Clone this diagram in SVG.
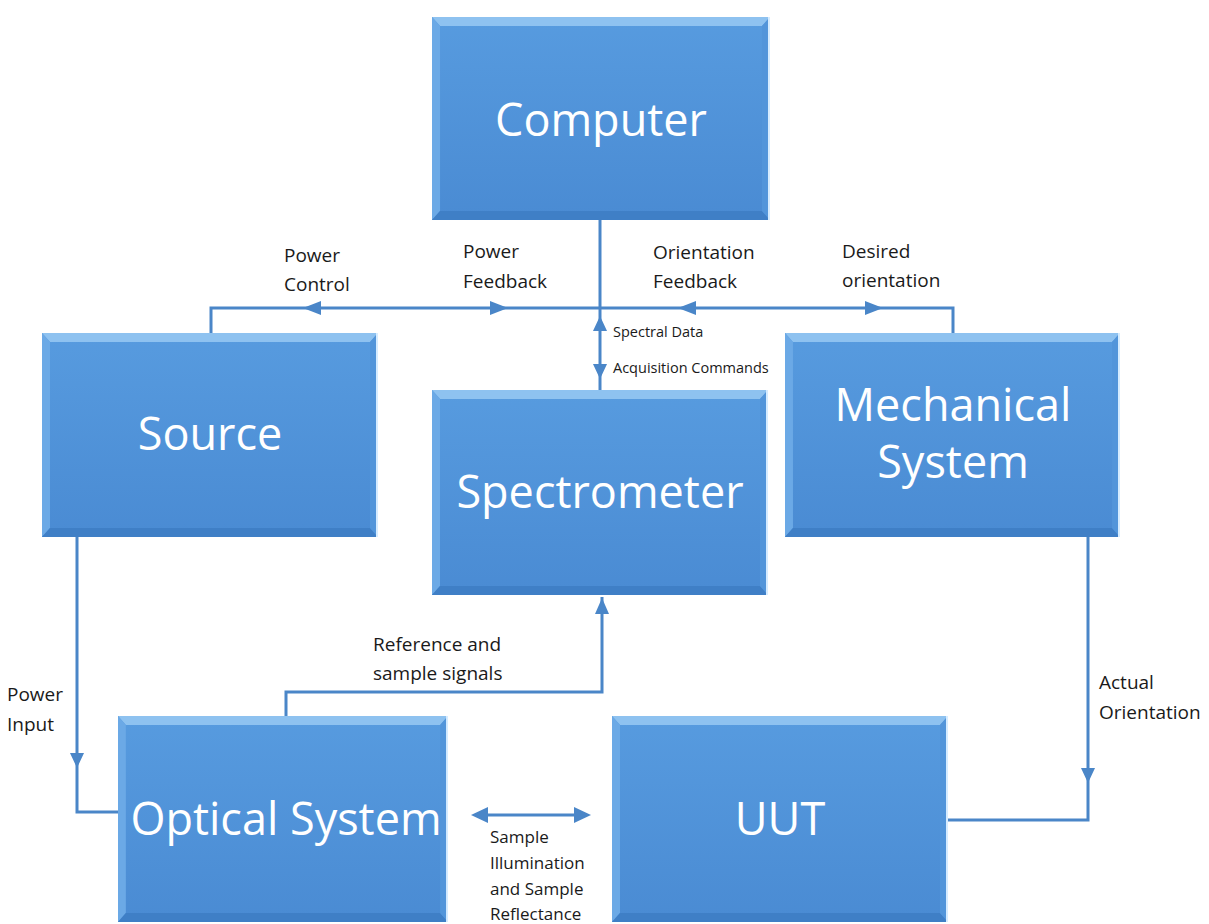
<svg xmlns="http://www.w3.org/2000/svg" xmlns:xlink="http://www.w3.org/1999/xlink" width="1209" height="924" viewBox="0 0 1209 924">
<style>
.lbl{font-family:"Open Sans","Liberation Sans",sans-serif;font-size:19px;fill:#1a1a1a}
.sm{font-family:"Open Sans","Liberation Sans",sans-serif;font-size:14.5px;fill:#1a1a1a}
.sl{font-family:"Open Sans","Liberation Sans",sans-serif;font-size:17px;fill:#1a1a1a}
.nt{font-family:"Open Sans","Liberation Sans",sans-serif;font-size:45px;fill:#ffffff;text-anchor:middle}
.ln{fill:none;stroke:#4a86c8;stroke-width:3}
.ah{fill:#4a86c8}
</style>
<defs>
<linearGradient id="g" x1="0" y1="0" x2="0" y2="1">
<stop offset="0" stop-color="#579bdf"/>
<stop offset="1" stop-color="#4a8bd3"/>
</linearGradient>
<symbol id="box" viewBox="0 0 336 204" preserveAspectRatio="none">
<rect x="0" y="0" width="336" height="204" fill="url(#g)"/>
<polygon points="0,0 336,0 328,9 8,9" fill="#8ec2f0"/>
<polygon points="0,0 8,9 8,195 0,204" fill="#6ba9e6"/>
<polygon points="0,204 8,195 328,195 336,204" fill="#3f7fc6"/>
<polygon points="336,0 336,204 328,195 328,9" fill="#5295da"/>
<rect x="334" y="0" width="2" height="204" fill="#d6ecff"/>
</symbol>
</defs>
<rect width="1209" height="924" fill="#ffffff"/>
<g id="connectors">
<path class="ln" d="M211,333 V308 H953 V333"/>
<path class="ln" d="M600,220 V390"/>
<path class="ln" d="M77,537 V812 H118"/>
<path class="ln" d="M286,716 V692 H602 V597"/>
<path class="ln" d="M1088,537 V820 H948"/>
<path class="ln" d="M484,815 H578"/>
<polygon class="ah" points="303,308 321,301 321,315"/>
<polygon class="ah" points="508,308 490,301 490,315"/>
<polygon class="ah" points="678,308 696,301 696,315"/>
<polygon class="ah" points="883,308 865,301 865,315"/>
<polygon class="ah" points="600,316 593,331 607,331"/>
<polygon class="ah" points="600,379 593,364 607,364"/>
<polygon class="ah" points="77,768 70,753 84,753"/>
<polygon class="ah" points="602,598 595,614 609,614"/>
<polygon class="ah" points="1088,783 1081,768 1095,768"/>
<polygon class="ah" points="471,815 488,807 488,823"/>
<polygon class="ah" points="591,815 574,807 574,823"/>
</g>
<g id="labels">
<text class="lbl" x="284" y="262">Power</text>
<text class="lbl" x="284" y="291">Control</text>
<text class="lbl" x="463" y="258">Power</text>
<text class="lbl" x="463" y="288">Feedback</text>
<text class="lbl" x="653" y="259">Orientation</text>
<text class="lbl" x="653" y="288">Feedback</text>
<text class="lbl" x="842" y="258">Desired</text>
<text class="lbl" x="842" y="287">orientation</text>
<text class="sm" x="613" y="337">Spectral Data</text>
<text class="sm" x="613" y="373">Acquisition Commands</text>
<text class="lbl" x="7" y="701">Power</text>
<text class="lbl" x="7" y="731">Input</text>
<text class="lbl" x="373" y="651">Reference and</text>
<text class="lbl" x="373" y="680">sample signals</text>
<text class="lbl" x="1099" y="689">Actual</text>
<text class="lbl" x="1099" y="719">Orientation</text>
<text class="sl" x="490" y="843">Sample</text>
<text class="sl" x="490" y="869">Illumination</text>
<text class="sl" x="490" y="895">and Sample</text>
<text class="sl" x="490" y="920">Reflectance</text>
</g>
<g id="computer">
<use xlink:href="#box" x="432" y="17" width="338" height="203"/>
<text class="nt" x="601" y="136">Computer</text>
</g>
<g id="source">
<use xlink:href="#box" x="42" y="333" width="336" height="204"/>
<text class="nt" x="210" y="450">Source</text>
</g>
<g id="spectrometer">
<use xlink:href="#box" x="432" y="390" width="336" height="205"/>
<text class="nt" x="600" y="508">Spectrometer</text>
</g>
<g id="mechanical">
<use xlink:href="#box" x="785" y="333" width="335" height="204"/>
<text class="nt" x="953" y="421">Mechanical</text>
<text class="nt" x="953" y="478">System</text>
</g>
<g id="optical">
<use xlink:href="#box" x="118" y="716" width="330" height="206"/>
<text class="nt" x="286" y="835">Optical System</text>
</g>
<g id="uut">
<use xlink:href="#box" x="612" y="716" width="336" height="206"/>
<text class="nt" x="780" y="835">UUT</text>
</g>
</svg>
